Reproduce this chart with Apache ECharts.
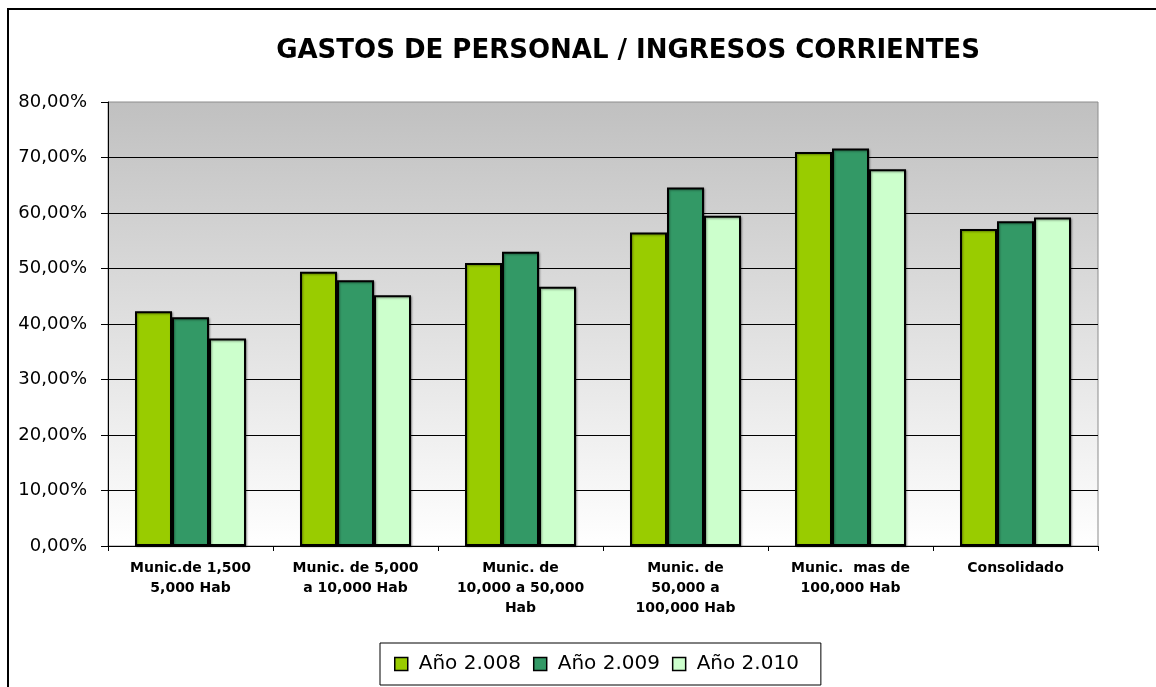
<!DOCTYPE html>
<html style="height: 100%">
<head>
    <meta charset="utf-8">
    <script type="text/javascript" src="https://cdn.jsdelivr.net/npm/echarts/dist/echarts.min.js"></script>
</head>
<body style="height: 100%; margin: 0; background: #fff">
<div id="container" style="width: 1156px; height: 687px"></div>
<script type="text/javascript">
// datos
var categorias = [
    'Munic.de 1,500\n5,000 Hab',
    'Munic. de 5,000\na 10,000 Hab',
    'Munic. de\n10,000 a 50,000\nHab',
    'Munic. de\n50,000 a\n100,000 Hab',
    'Munic.  mas de\n100,000 Hab',
    'Consolidado'
];
var anio2008 = [42.3, 49.4, 51.0, 56.5, 71.0, 57.1];
var anio2009 = [41.2, 47.9, 53.0, 64.6, 71.6, 58.5];
var anio2010 = [37.4, 45.2, 46.7, 59.5, 67.9, 59.2];
var nombres = ['Año 2.008', 'Año 2.009', 'Año 2.010'];
var colores = ['#99cc00', '#339966', '#ccffcc'];

var dom = document.getElementById('container');
var myChart = echarts.init(dom);

// estilo comun de barras
function serie(nombre, datos, color) {
    return {
        name: nombre,
        type: 'bar',
        data: datos,
        barWidth: 37,
        barGap: '0%',
        itemStyle: {
            color: color,
            borderColor: '#000',
            borderWidth: 2,
            shadowColor: 'rgba(0,0,0,0.35)',
            shadowBlur: 2,
            shadowOffsetX: 1,
            shadowOffsetY: 1
        }
    };
}

var option = {
    animation: false,
    title: {
        text: 'GASTOS DE PERSONAL / INGRESOS CORRIENTES',
        left: 623,
        top: 33,
        textAlign: 'center',
        textStyle: {
            fontFamily: 'DejaVu Sans',
            fontWeight: 'bold',
            fontSize: 26,
            color: '#000'
        }
    },
    graphic: [{
        type: 'rect',
        z: -10,
        shape: { x: 8, y: 9, width: 1300, height: 900 },
        style: { fill: 'none', stroke: '#000', lineWidth: 2 }
    }],
    grid: {
        left: 108,
        right: 58,
        top: 102,
        bottom: 141,
        show: true,
        borderColor: '#8c8c8c',
        borderWidth: 1,
        backgroundColor: new echarts.graphic.LinearGradient(0, 0, 0, 1, [
            { offset: 0, color: '#c0c0c0' },
            { offset: 1, color: '#ffffff' }
        ])
    },
    legend: {
        data: nombres,
        left: 380,
        top: 643,
        padding: [11, 22, 11, 14],
        borderColor: '#000',
        borderWidth: 1,
        itemWidth: 13,
        itemHeight: 13,
        itemGap: 12,
        icon: 'rect',
        itemStyle: { borderColor: '#000', borderWidth: 1.5 },
        textStyle: {
            fontFamily: 'DejaVu Sans',
            fontSize: 20,
            color: '#000',
            padding: [0, 0, 0, 6]
        }
    },
    xAxis: {
        type: 'category',
        data: categorias,
        axisLine: { lineStyle: { color: '#000', width: 1 } },
        axisTick: { show: true, alignWithLabel: false, length: 5, lineStyle: { color: '#000' } },
        axisLabel: {
            interval: 0,
            margin: 12,
            color: '#000',
            fontFamily: 'DejaVu Sans',
            fontWeight: 'bold',
            fontSize: 14,
            lineHeight: 20
        }
    },
    yAxis: {
        type: 'value',
        min: 0,
        max: 80,
        interval: 10,
        axisLine: { show: true, lineStyle: { color: '#000', width: 1 } },
        axisTick: { show: true, inside: false, length: 7, lineStyle: { color: '#000' } },
        splitLine: { showMaxLine: false, lineStyle: { color: '#000', width: 1 } },
        axisLabel: {
            margin: 21,
            color: '#000',
            fontFamily: 'DejaVu Sans',
            fontSize: 18,
            formatter: function (v) {
                return v.toFixed(2).replace('.', ',') + '%';
            }
        }
    },
    series: [
        serie(nombres[0], anio2008, colores[0]),
        serie(nombres[1], anio2009, colores[1]),
        serie(nombres[2], anio2010, colores[2])
    ]
};

myChart.setOption(option);
</script>
</body>
</html>
